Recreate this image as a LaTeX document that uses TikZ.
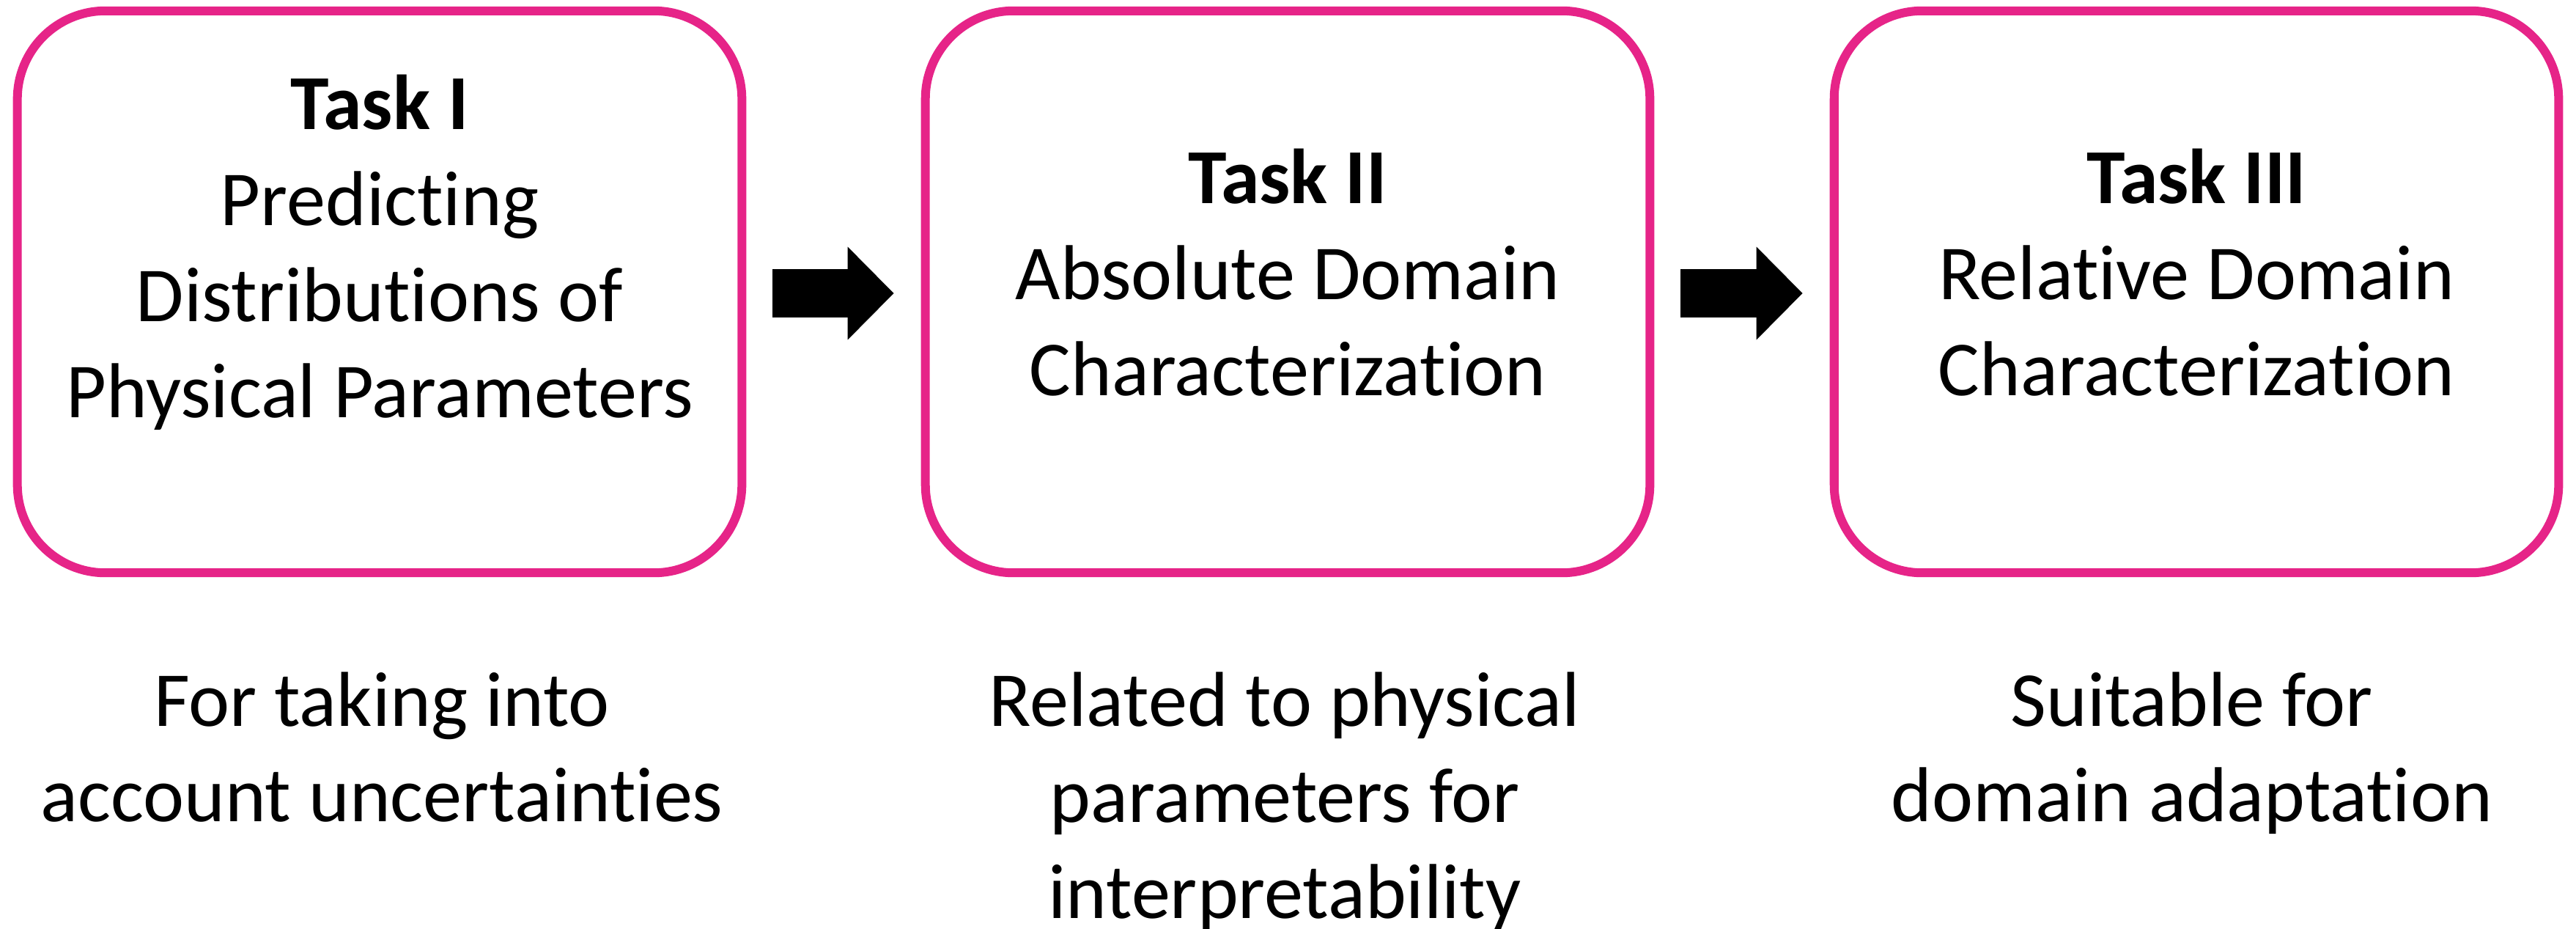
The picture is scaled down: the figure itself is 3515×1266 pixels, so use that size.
\documentclass[tikz,border=0pt]{standalone}
\usepackage{fontspec}
\setmainfont{Carlito}[Ligatures={NoCommon,NoRequired,NoContextual}]
\usetikzlibrary{arrows.meta,calc}
\definecolor{boxpink}{RGB}{230,36,136}
\tikzset{
  taskbox/.style={draw=boxpink, line width=0.12cm, rounded corners=1.2cm,
    minimum width=9.88cm, minimum height=7.66cm, inner sep=0pt, fill=white},
  txt/.style={anchor=base, inner sep=0pt, font=\fontsize{30.2pt}{37pt}\selectfont},
  btxt/.style={txt, font=\fontsize{30.2pt}{37pt}\selectfont\bfseries},
  blockarrow/.style={draw=black, line width=0.65cm,
    -{Triangle[length=0.63cm,width=1.23cm]}}
}
\begin{document}
\begin{tikzpicture}[x=0.01cm,y=-0.01cm]
\useasboundingbox[fill=white] (0,0) rectangle (3515,1266);
% boxes
\node[taskbox] (b1) at (518,398) {};
\node[taskbox] (b2) at (1757,398) {};
\node[taskbox] (b3) at (2997,398) {};
% arrows
\draw[blockarrow] ($(b1.east)+(36,2)$) -- ($(b2.west)+(-37,2)$);
\draw[blockarrow] ($(b2.east)+(36,2)$) -- ($(b3.west)+(-37,2)$);
% box 1 text
\node[btxt] (t1a) at (518,176) {Task I};
\node[txt] (t1b) at (518,307) {Predicting};
\node[txt] (t1c) at (518,438) {Distributions of};
\node[txt] (t1d) at (518,569) {Physical Parameters};
% box 2 text
\node[btxt] (t2a) at (1757,277) {Task II};
\node[txt] (t2b) at (1757,408) {Absolute Domain};
\node[txt] (t2c) at (1757,539) {Characterization};
% box 3 text
\node[btxt] (t3a) at (2997,277) {Task III};
\node[txt] (t3b) at (2997,408) {Relative Domain};
\node[txt] (t3c) at (2997,539) {Characterization};
% captions
\node[txt] (c1a) at (521,990) {For taking into};
\node[txt] (c1b) at (521,1120) {account uncertainties};
\node[txt] (c2a) at (1753,990) {Related to physical};
\node[txt] (c2b) at (1753,1121) {parameters for};
\node[txt] (c2c) at (1753,1252) {interpretability};
\node[txt] (c3a) at (2991,990) {Suitable for};
\node[txt] (c3b) at (2991,1120) {domain adaptation};
\end{tikzpicture}
\end{document}
